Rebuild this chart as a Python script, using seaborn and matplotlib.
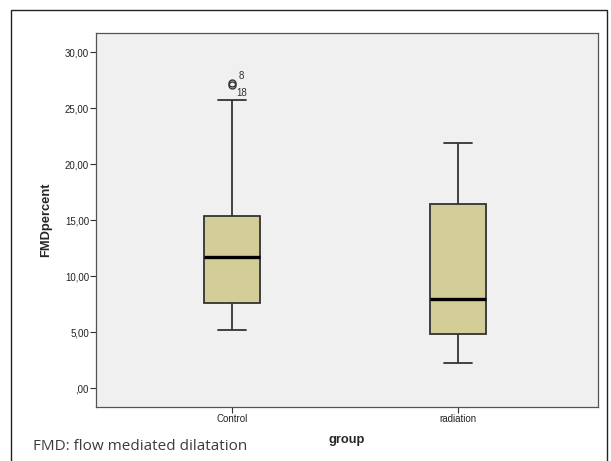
import numpy as np
import pandas as pd
import seaborn as sns
import matplotlib.pyplot as plt
from matplotlib.patches import Rectangle
from matplotlib.ticker import FuncFormatter, MultipleLocator

# values (quartiles, whiskers, outliers)
control_fmd = [5.2, 6.1, 6.9, 7.6, 8.8, 10.4, 11.7, 12.9, 14.2, 15.35, 25.7, 27.05, 27.25]
radiation_fmd = [2.2, 3.5, 4.8, 6.4, 7.95, 12.0, 16.4, 19.5, 21.9]
groups = ["Control", "radiation"]
outlier_cases = {27.25: "8", 27.05: "18"}

df = pd.DataFrame({
    "group": [groups[0]] * len(control_fmd) + [groups[1]] * len(radiation_fmd),
    "FMDpercent": control_fmd + radiation_fmd,
})

sns.set_style("white")
plt.rcParams["font.family"] = ["Liberation Sans", "DejaVu Sans"]

fig = plt.figure(figsize=(6.11, 4.61), dpi=100)
ax = fig.add_axes([0.157, 0.117, 0.822, 0.811])
ax.set_facecolor("#f0f0f0")

sns.boxplot(data=df, x="group", y="FMDpercent", order=groups, ax=ax,
            width=0.25, color="#d3ce97", saturation=1, linecolor="#333333",
            linewidth=1.3, whis=1.45,
            medianprops=dict(color="black", linewidth=2.4),
            flierprops=dict(marker="o", markerfacecolor="none",
                            markeredgecolor="#333333", markersize=5))

# case labels next to the outliers
label_offsets = {"8": (4.3, 5), "18": (2.9, -5.4)}
for val, lab in outlier_cases.items():
    ax.annotate(lab, (0, val), xytext=label_offsets[lab], textcoords="offset points",
                fontsize=7, color="#333333", va="center", ha="left")

ax.set_xlim(-0.603, 1.62)
ax.set_ylim(-1.7, 31.7)
ax.yaxis.set_major_locator(MultipleLocator(5))


def spss_fmt(v, pos):
    s = f"{v:.2f}".replace(".", ",")
    if s.startswith("0"):
        s = s[1:]
    return s


ax.yaxis.set_major_formatter(FuncFormatter(spss_fmt))
ax.tick_params(axis="both", direction="out", length=4.5, width=0.8,
               color="#333333", labelsize=7, labelcolor="#222222", pad=0.5)
ax.tick_params(left=True, bottom=True)
for sp in ax.spines.values():
    sp.set_color("#555555")
    sp.set_linewidth(0.9)

ax.set_xlabel("group", fontsize=9.3, fontweight="bold", labelpad=7)
ax.set_ylabel("FMDpercent", fontsize=9.3, fontweight="bold", labelpad=9)

# outer frame of the figure panel
fig.patches.append(Rectangle((11 / 611, -0.1), 596 / 611, 1.1 - 10 / 461,
                             transform=fig.transFigure, fill=False,
                             edgecolor="#222222", linewidth=1))
fig.text(33 / 611, 1 - 446 / 461, "FMD: flow mediated dilatation",
         fontsize=11, color="#3c3c3c", family=["Open Sans", "DejaVu Sans"],
         va="center", ha="left")

fig.savefig("out.png", dpi=100)
